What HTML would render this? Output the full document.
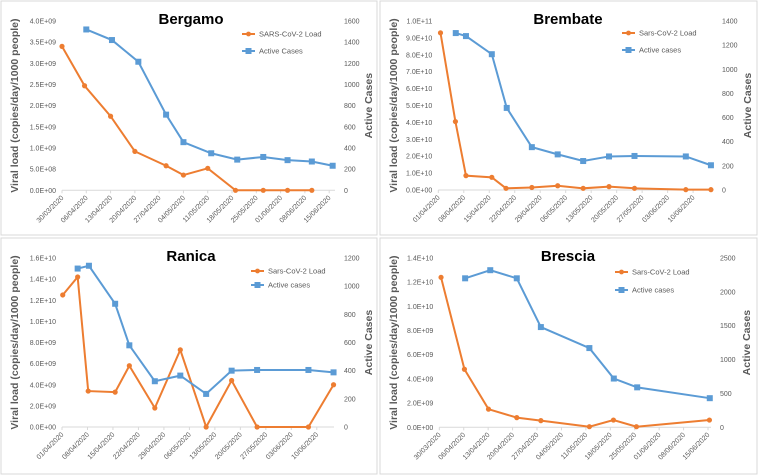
<!DOCTYPE html>
<html><head><meta charset="utf-8">
<style>
html,body{margin:0;padding:0;background:#fff;}
svg{display:block;font-family:"Liberation Sans",Arial,sans-serif;}
</style></head>
<body>
<svg id="chart" width="758" height="475" viewBox="0 0 758 475" xmlns="http://www.w3.org/2000/svg"></svg>
<script>
// ---- data (x = days since first date tick) ----
const bergamoDates = ["30/03/2020","06/04/2020","13/04/2020","20/04/2020","27/04/2020","04/05/2020","11/05/2020","18/05/2020","25/05/2020","01/06/2020","08/06/2020","15/06/2020"];
const bergamoLeftTicks = ["0.0E+00","5.0E+08","1.0E+09","1.5E+09","2.0E+09","2.5E+09","3.0E+09","3.5E+09","4.0E+09"];
const bergamoRightTicks = ["0","200","400","600","800","1000","1200","1400","1600"];
const bergamoLoadDays = [0,6.5,14,21,30,35,42,50,58,65,72];
const bergamoLoad = [3.4e9,2.47e9,1.75e9,0.92e9,0.58e9,0.36e9,0.52e9,0,0,0,0];
const bergamoCaseDays = [7,14.4,22,30,35,43,50.5,58,65,72,78];
const bergamoCases = [1520,1420,1215,715,455,350,290,315,285,272,232];

const brembateDates = ["01/04/2020","08/04/2020","15/04/2020","22/04/2020","29/04/2020","06/05/2020","13/05/2020","20/05/2020","27/05/2020","03/06/2020","10/06/2020"];
const brembateLeftTicks = ["0.0E+00","1.0E+10","2.0E+10","3.0E+10","4.0E+10","5.0E+10","6.0E+10","7.0E+10","8.0E+10","9.0E+10","1.0E+11"];
const brembateRightTicks = ["0","200","400","600","800","1000","1200","1400"];
const brembateLoadDays = [0.6,4.7,7.6,14.7,18.6,25.7,32.8,39.8,46.9,53.9,68,74.9];
const brembateLoad = [9.3e10,4.05e10,0.85e10,0.75e10,0.1e10,0.15e10,0.25e10,0.1e10,0.2e10,0.1e10,0.02e10,0.02e10];
const brembateCaseDays = [4.8,7.6,14.7,18.8,25.7,32.8,39.8,46.9,53.9,68,74.9];
const brembateCases = [1300,1275,1125,680,355,295,240,278,282,278,205];

const ranicaDates = ["01/04/2020","08/04/2020","15/04/2020","22/04/2020","29/04/2020","06/05/2020","13/05/2020","20/05/2020","27/05/2020","03/06/2020","10/06/2020"];
const ranicaLeftTicks = ["0.0E+00","2.0E+09","4.0E+09","6.0E+09","8.0E+09","1.0E+10","1.2E+10","1.4E+10","1.6E+10"];
const ranicaRightTicks = ["0","200","400","600","800","1000","1200"];
const ranicaLoadDays = [0.2,4.3,7.2,14.6,18.5,25.5,32.5,39.6,46.6,53.6,67.7,74.6];
const ranicaLoad = [1.25e10,1.42e10,0.34e10,0.33e10,0.58e10,0.18e10,0.73e10,0,0.44e10,0,0,0.4e10];
const ranicaCaseDays = [4.3,7.4,14.6,18.5,25.5,32.5,39.6,46.6,53.6,67.7,74.6];
const ranicaCases = [1125,1145,875,580,325,365,235,400,405,405,388];

const bresciaDates = ["30/03/2020","06/04/2020","13/04/2020","20/04/2020","27/04/2020","04/05/2020","11/05/2020","18/05/2020","25/05/2020","01/06/2020","08/06/2020","15/06/2020"];
const bresciaLeftTicks = ["0.0E+00","2.0E+09","4.0E+09","6.0E+09","8.0E+09","1.0E+10","1.2E+10","1.4E+10"];
const bresciaRightTicks = ["0","500","1000","1500","2000","2500"];
const bresciaLoadDays = [0.5,7.2,14.1,22.2,29.1,43,49.9,56.5,77.4];
const bresciaLoad = [1.24e10,0.48e10,0.15e10,0.08e10,0.055e10,0.005e10,0.06e10,0.005e10,0.06e10];
const bresciaCaseDays = [7.4,14.6,22.2,29.1,43,50,56.7,77.5];
const bresciaCases = [2200,2320,2200,1480,1170,720,590,430];

const NS="http://www.w3.org/2000/svg";
const svg=document.getElementById('chart');
function mk(tag,attrs,parent,txt){const e=document.createElementNS(NS,tag);for(const k in attrs)e.setAttribute(k,attrs[k]);if(txt!==undefined)e.textContent=txt;parent.appendChild(e);return e;}

const ORANGE="#ED7D31", BLUE="#5B9BD5", GREY="#595959";

function panel(cfg){
  const g=mk('g',{transform:`translate(${cfg.ox},${cfg.oy})`},svg);
  
  
  const bg=mk('rect',{x:0,y:0,width:cfg.w,height:cfg.h,fill:'#fff',stroke:'#d9d9d9','stroke-width':1},g);
  
  
  const x0=cfg.x0, ppd=cfg.ppd, yb=cfg.yb, yt=cfg.yt;
  const xs=d=>x0+d*ppd;
  const lMax=cfg.lMax, rMax=cfg.rMax;
  const yl=v=>yb-(v/lMax)*(yb-yt);
  const yr=v=>yb-(v/rMax)*(yb-yt);
  // title
  const t=mk('text',{x:cfg.tx,y:23,'text-anchor':'middle','font-size':15,'font-weight':'bold',fill:'#000'},g,cfg.title);
  
  
  // left ticks
  cfg.leftTicks.forEach((lab,i)=>{
    const v=i*lMax/(cfg.leftTicks.length-1);
    const e=mk('text',{x:x0-6,y:yl(v)+2.5,'text-anchor':'end','font-size':7,fill:GREY},g,lab);
    
    
  });
  cfg.rightTicks.forEach((lab,i)=>{
    const v=i*rMax/(cfg.rightTicks.length-1);
    const e=mk('text',{x:cfg.rx,y:yr(v)+2.5,'text-anchor':'start','font-size':7,fill:GREY},g,lab);
    
    
  });
  // axis titles
  const lt=mk('text',{x:0,y:0,transform:`translate(${cfg.ltx},${(yb+yt)/2}) rotate(-90)`,'text-anchor':'middle','font-size':10.5,'font-weight':'bold',fill:GREY},g,'Viral load (copies/day/1000 people)');
  
  
  const rt=mk('text',{x:0,y:0,transform:`translate(${cfg.rtx},${(yb+yt)/2}) rotate(-90)`,'text-anchor':'middle','font-size':10.5,'font-weight':'bold',fill:GREY},g,'Active Cases');
  
  
  // x axis
  const ax=mk('line',{x1:x0,y1:yb,x2:cfg.xEnd,y2:yb,stroke:'#d9d9d9','stroke-width':1},g);
  
  
  cfg.dates.forEach((lab,i)=>{
    const x=xs(i*7);
    mk('line',{x1:x,y1:yb,x2:x,y2:yb+3,stroke:'#d9d9d9'},g);
    const e=mk('text',{x:0,y:0,transform:`translate(${x+2},${yb+8}) rotate(-45)`,'text-anchor':'end','font-size':7,fill:GREY},g,lab);
    
    
  });
  // series
  const lp=cfg.loadDays.map((d,i)=>xs(d)+','+yl(cfg.load[i])).join(' ');
  const ol=mk('polyline',{points:lp,fill:'none',stroke:ORANGE,'stroke-width':2},g);
  
  
  cfg.loadDays.forEach((d,i)=>{
    const c=mk('circle',{cx:xs(d),cy:yl(cfg.load[i]),r:2.6,fill:ORANGE},g);
    
    
  });
  const cp=cfg.caseDays.map((d,i)=>xs(d)+','+yr(cfg.cases[i])).join(' ');
  const bl=mk('polyline',{points:cp,fill:'none',stroke:BLUE,'stroke-width':2},g);
  
  
  cfg.caseDays.forEach((d,i)=>{
    const r=mk('rect',{x:xs(d)-3,y:yr(cfg.cases[i])-3,width:6,height:6,fill:BLUE},g);
    
    
  });
  // legend
  const lx=cfg.lgx, ly=cfg.lgy;
  const l1=mk('g',{},g);
  
  
  mk('line',{x1:lx,y1:ly,x2:lx+13,y2:ly,stroke:ORANGE,'stroke-width':2},l1);
  mk('circle',{cx:lx+6.5,cy:ly,r:2.4,fill:ORANGE},l1);
  mk('text',{x:lx+17,y:ly+2.5,'font-size':7.5,fill:GREY},l1,cfg.l1);
  const l2=mk('g',{},g);
  
  
  mk('line',{x1:lx,y1:ly+cfg.lgdy,x2:lx+13,y2:ly+cfg.lgdy,stroke:BLUE,'stroke-width':2},l2);
  mk('rect',{x:lx+3.5,y:ly+cfg.lgdy-3,width:6,height:6,fill:BLUE},l2);
  mk('text',{x:lx+17,y:ly+cfg.lgdy+2.5,'font-size':7.5,fill:GREY},l2,cfg.l2);
}

panel({name:'bergamo',title:'Bergamo',ox:1,oy:1,w:376,h:234,tx:190,x0:61,ppd:3.47,xEnd:334,yb:189.3,yt:20,lMax:4e9,rMax:1600,
  leftTicks:bergamoLeftTicks,rightTicks:bergamoRightTicks,dates:bergamoDates,rx:343,ltx:17,rtx:371,
  loadDays:bergamoLoadDays,load:bergamoLoad,caseDays:bergamoCaseDays,cases:bergamoCases,
  lgx:241,lgy:33,lgdy:17,l1:'SARS-CoV-2 Load',l2:'Active Cases'});
panel({name:'brembate',title:'Brembate',ox:380,oy:1,w:377,h:234,tx:188,x0:58.3,ppd:3.64,xEnd:333,yb:189,yt:20,lMax:1e11,rMax:1400,
  leftTicks:brembateLeftTicks,rightTicks:brembateRightTicks,dates:brembateDates,rx:342,ltx:17,rtx:371,
  loadDays:brembateLoadDays,load:brembateLoad,caseDays:brembateCaseDays,cases:brembateCases,
  lgx:242,lgy:32,lgdy:17,l1:'Sars-CoV-2  Load',l2:'Active cases'});
panel({name:'ranica',title:'Ranica',ox:1,oy:238,w:376,h:236,tx:190,x0:61,ppd:3.64,xEnd:333,yb:189,yt:20,lMax:1.6e10,rMax:1200,
  leftTicks:ranicaLeftTicks,rightTicks:ranicaRightTicks,dates:ranicaDates,rx:343,ltx:17,rtx:371,
  loadDays:ranicaLoadDays,load:ranicaLoad,caseDays:ranicaCaseDays,cases:ranicaCases,
  lgx:250,lgy:33,lgdy:14,l1:'Sars-CoV-2 Load',l2:'Active cases'});
panel({name:'brescia',title:'Brescia',ox:380,oy:238,w:377,h:236,tx:188,x0:59.3,ppd:3.49,xEnd:331,yb:189.3,yt:20,lMax:1.4e10,rMax:2500,
  leftTicks:bresciaLeftTicks,rightTicks:bresciaRightTicks,dates:bresciaDates,rx:340,ltx:17,rtx:370,
  loadDays:bresciaLoadDays,load:bresciaLoad,caseDays:bresciaCaseDays,cases:bresciaCases,
  lgx:235,lgy:34,lgdy:18,l1:'Sars-CoV-2 Load',l2:'Active cases'});
</script>
</body></html>
